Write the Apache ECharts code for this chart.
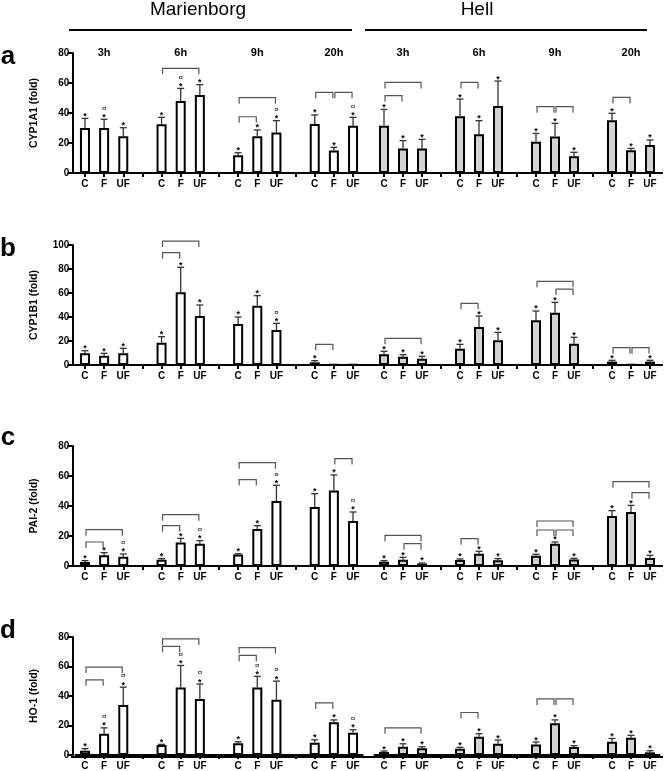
<!DOCTYPE html>
<html><head><meta charset="utf-8">
<script src="https://cdn.jsdelivr.net/npm/echarts@6/dist/echarts.min.js"></script>
<style>html,body{margin:0;padding:0;background:#fff}#c{width:669px;height:771px}</style>
</head><body><div id="c"></div>
<script>
// ---------- data ----------
const sites = ['Marienborg', 'Hell'];
const timepoints = ['3h', '6h', '9h', '20h'];
const treatments = ['C', 'F', 'UF'];
const panelLetters = ['a', 'b', 'c', 'd'];
const yTitles = ['CYP1A1 (fold)', 'CYP1B1 (fold)', 'PAI-2 (fold)', 'HO-1 (fold)'];
const yMaxes = [80, 100, 80, 80];
const yTickStep = 20;

// order: 3h C,F,UF | 6h C,F,UF | 9h C,F,UF | 20h C,F,UF
const cyp1a1Marienborg = [30, 30, 24.5, 32.5, 48, 52, 11.8, 24.5, 27, 32.7, 15, 31.5];
const cyp1a1MarienborgErr = [6.4, 5.8, 5.7, 4.6, 8.4, 6.9, 1.7, 4.2, 7.9, 6, 2.1, 5.6];
const cyp1a1MarienborgMarks = ['*', '*¤', '*', '*', '*¤', '*', '*', '*', '*¤', '*', '*', '*¤'];
const cyp1a1Hell = [31.5, 16.4, 16.4, 37.8, 25.8, 44.7, 20.9, 24.4, 11.1, 35.1, 15.1, 18.7];
const cyp1a1HellErr = [10.9, 5.2, 6, 11.5, 9.1, 16.6, 5.5, 8.7, 2.7, 4.7, 1.3, 3.3];
const cyp1a1HellMarks = ['*', '*', '*', '*', '*', '*', '*', '*', '*', '*', '*', '*'];
// brackets: [timepoint index 0-7 (0-3 Marienborg, 4-7 Hell), from, to, level]
const cyp1a1Brackets = [[1, 0, 2, 69.8], [2, 0, 2, 50.2], [2, 0, 1, 37.5], [3, 0, 1, 53.8], [3, 1, 2, 53.8],
  [4, 0, 2, 60.4], [4, 0, 1, 51.6], [5, 0, 1, 60.4], [6, 0, 1, 44.2], [6, 1, 2, 44.2], [7, 0, 1, 50.4]];

const cyp1b1Marienborg = [9.7, 7.8, 9.7, 18.6, 60.6, 40.8, 34.2, 49.4, 29.2, 2.2, 0.3, 0.3];
const cyp1b1MarienborgErr = [2.2, 1.9, 4.2, 5, 20.8, 9.2, 5.8, 8.4, 5.5, 1.4, 0, 0];
const cyp1b1MarienborgMarks = ['*', '*', '*', '*', '*', '*', '*', '*', '*¤', '*', '', ''];
const cyp1b1Hell = [8.9, 6.9, 5.3, 13.6, 31.7, 20.6, 37.2, 43.6, 17.8, 2.8, 0.5, 2.8];
const cyp1b1HellErr = [2.5, 1.7, 1.9, 3.6, 9.1, 6.6, 7.8, 8.6, 5.3, 1.1, 0, 1.1];
const cyp1b1HellMarks = ['*', '*', '*', '*', '*', '*', '*', '*', '*', '*', '', '*'];
const cyp1b1Brackets = [[1, 0, 2, 103.3], [1, 0, 1, 93.6], [3, 0, 1, 17.2], [4, 0, 2, 22.2], [5, 0, 1, 51.4],
  [6, 0, 2, 69.7], [6, 1, 2, 63.3], [7, 0, 1, 14.4], [7, 1, 2, 14.4]];

const pai2Marienborg = [2.7, 7.1, 6.2, 4.2, 15.6, 14.9, 7.6, 24.7, 43.3, 39.3, 50.4, 30];
const pai2MarienborgErr = [0.9, 1.8, 1.8, 0.7, 2.8, 2, 0.6, 2.2, 10.5, 8.9, 10.3, 6];
const pai2MarienborgMarks = ['*', '*', '*¤', '*', '*', '*¤', '*', '*', '*¤', '*', '*', '*¤'];
const pai2Hell = [2.9, 4.2, 1.6, 4, 8.2, 3.8, 6.9, 14.9, 4.4, 33.3, 36, 5.3];
const pai2HellErr = [0.7, 1.6, 0.4, 0.7, 1.6, 1.1, 0.9, 1.1, 0.7, 3.6, 4.4, 1.8];
const pai2HellMarks = ['*', '*', '*', '*', '*', '*', '*', '*', '*', '*', '*', '*'];
const pai2Brackets = [[0, 0, 2, 24.2], [0, 0, 1, 16], [1, 0, 2, 34.2], [1, 0, 1, 26.9], [2, 0, 2, 68.9], [2, 0, 1, 57.6],
  [3, 1, 2, 71.6], [4, 0, 2, 20.4], [4, 1, 2, 14.9], [5, 0, 1, 18.2], [6, 0, 2, 30], [6, 0, 1, 24], [6, 1, 2, 24],
  [7, 0, 2, 56.2], [7, 1, 2, 48.9]];

const ho1Marienborg = [2.9, 14.4, 33.9, 6.7, 45.8, 38, 7.9, 45.8, 37.5, 8.3, 22.2, 15.1];
const ho1MarienborgErr = [1.4, 4, 12.1, 0.5, 14.9, 10.1, 1.1, 7.5, 12.6, 2, 1.6, 2];
const ho1MarienborgMarks = ['*', '*¤', '*¤', '*', '*¤', '*¤', '*', '*¤', '*¤', '*', '*', '*¤'];
const ho1Hell = [2, 5.6, 4.5, 4.3, 12.4, 7.6, 7.2, 21.6, 5.4, 9, 11.7, 1.8];
const ho1HellErr = [0.7, 2, 1.1, 0.9, 2, 2.5, 1.6, 2.2, 0.9, 2.2, 1.6, 1.1];
const ho1HellMarks = ['*', '*', '*', '*', '*', '*', '*', '*', '*', '*', '*', '*'];
const ho1Brackets = [[0, 0, 2, 59.6], [0, 0, 1, 51], [1, 0, 2, 78.7], [1, 0, 1, 73.7], [2, 0, 2, 72.8], [2, 0, 1, 67.6],
  [3, 0, 1, 35.3], [4, 0, 2, 18.4], [5, 0, 1, 28.8], [6, 0, 1, 38], [6, 1, 2, 38]];

// ---------- assemble ----------
const panelData = [
  { vals: [cyp1a1Marienborg, cyp1a1Hell], errs: [cyp1a1MarienborgErr, cyp1a1HellErr], marks: [cyp1a1MarienborgMarks, cyp1a1HellMarks], br: cyp1a1Brackets },
  { vals: [cyp1b1Marienborg, cyp1b1Hell], errs: [cyp1b1MarienborgErr, cyp1b1HellErr], marks: [cyp1b1MarienborgMarks, cyp1b1HellMarks], br: cyp1b1Brackets },
  { vals: [pai2Marienborg, pai2Hell], errs: [pai2MarienborgErr, pai2HellErr], marks: [pai2MarienborgMarks, pai2HellMarks], br: pai2Brackets },
  { vals: [ho1Marienborg, ho1Hell], errs: [ho1MarienborgErr, ho1HellErr], marks: [ho1MarienborgMarks, ho1HellMarks], br: ho1Brackets }
];

const FONT = 'Liberation Sans, Arial, Helvetica, sans-serif';
const slotOf = (g, t) => 4 * g + t;
const xCats = [];
const topCats = [];
timepoints.forEach((tp, g) => {
  treatments.forEach((t, ti) => { xCats.push(t); topCats.push(ti === 1 ? tp : ''); });
  if (g < timepoints.length - 1) { xCats.push(''); topCats.push(''); }
});

const panelTops = [53, 245, 446, 637];
const panelH = 120;
const siteBox = [{ left: 75.4, width: 287.2 }, { left: 374.5, width: 285 }];
const fills = ['#ffffff', '#d3d3d3'];

const grid = [], xAxis = [], yAxis = [], series = [], graphic = [];

panelData.forEach((pd, p) => {
  sites.forEach((site, s) => {
    const gi = grid.length;
    grid.push({ left: siteBox[s].left, width: siteBox[s].width, top: panelTops[p], height: panelH });
    const xi = xAxis.length;
    xAxis.push({
      type: 'category', gridIndex: gi, data: xCats, boundaryGap: true,
      axisLine: { show: true, lineStyle: { color: '#000', width: 2 } },
      axisTick: { show: true, alignWithLabel: true, interval: 0, length: 4, lineStyle: { color: '#000', width: 2 } },
      axisLabel: { interval: 0, color: '#000', fontWeight: 'bold', fontSize: 10, fontFamily: FONT, margin: 6 },
      splitLine: { show: false }
    });
    if (p === 0) {
      xAxis.push({
        type: 'category', gridIndex: gi, data: topCats, position: 'top', boundaryGap: true,
        axisLine: { show: false }, axisTick: { show: false }, splitLine: { show: false },
        axisLabel: { interval: 0, color: '#000', fontWeight: 'bold', fontSize: 11, fontFamily: FONT, margin: -5 }
      });
    }
    yAxis.push({
      type: 'value', gridIndex: gi, min: 0, max: yMaxes[p], interval: yTickStep, show: s === 0,
      offset: 3,
      axisLine: { show: true, lineStyle: { color: '#000', width: 2 } },
      axisTick: { show: true, length: 5, lineStyle: { color: '#000', width: 2 } },
      axisLabel: { color: '#000', fontWeight: 'bold', fontSize: 10, fontFamily: FONT, margin: 3 },
      splitLine: { show: false },
      name: yTitles[p], nameLocation: 'middle', nameGap: 33, nameRotate: 90,
      nameTextStyle: { color: '#000', fontWeight: 'bold', fontSize: 10.5, fontFamily: FONT }
    });

    const vals = pd.vals[s], errs = pd.errs[s], marks = pd.marks[s];
    const barData = new Array(xCats.length).fill('-');
    const errData = [];
    const errMarks = [];
    vals.forEach((v, i) => {
      const g = Math.floor(i / 3), t = i % 3;
      barData[slotOf(g, t)] = v;
      errData.push([slotOf(g, t), v, v + errs[i]]);
      errMarks.push(marks[i]);
    });
    series.push({
      type: 'bar', xAxisIndex: xi, yAxisIndex: gi, data: barData, barWidth: 10,
      itemStyle: { color: fills[s], borderColor: '#000', borderWidth: 2 }, z: 2
    });
    series.push({
      type: 'custom', xAxisIndex: xi, yAxisIndex: gi, data: errData, encode: { x: 0, y: [1, 2] }, clip: false, z: 3,
      renderItem: function (params, api) {
        const d = errData[params.dataIndex];
        const mk = errMarks[params.dataIndex];
        const b = api.coord([d[0], d[1]]);
        const tp = api.coord([d[0], d[2]]);
        const ch = [];
        if (d[2] > d[1]) {
          ch.push({ type: 'line', shape: { x1: b[0], y1: b[1], x2: tp[0], y2: tp[1] }, style: { stroke: '#333', lineWidth: 1.3 } });
          ch.push({ type: 'line', shape: { x1: tp[0] - 3.5, y1: tp[1], x2: tp[0] + 3.5, y2: tp[1] }, style: { stroke: '#333', lineWidth: 1.3 } });
        }
        if (mk.indexOf('*') >= 0) {
          ch.push({ type: 'text', x: tp[0], y: tp[1] - 2, style: { text: '*', fill: '#000', fontSize: 9, fontWeight: 'bold', fontFamily: FONT, align: 'center', verticalAlign: 'middle' } });
        }
        if (mk.indexOf('¤') >= 0) {
          ch.push({ type: 'text', x: tp[0], y: tp[1] - 11, style: { text: '¤', fill: '#000', fontSize: 8, fontFamily: FONT, align: 'center', verticalAlign: 'middle' } });
        }
        return { type: 'group', children: ch };
      }
    });
    const brData = pd.br.filter(b => (b[0] < 4 ? 0 : 1) === s).map(b => [slotOf(b[0] % 4, b[1]), slotOf(b[0] % 4, b[2]), b[3]]);
    series.push({
      type: 'custom', xAxisIndex: xi, yAxisIndex: gi, data: brData, encode: { x: [0, 1], y: 2 }, clip: false, z: 3,
      renderItem: function (params, api) {
        const d = brData[params.dataIndex];
        const p1 = api.coord([d[0], d[2]]);
        const p2 = api.coord([d[1], d[2]]);
        return {
          type: 'polyline',
          shape: { points: [[p1[0] + 1, p1[1] + 6], [p1[0] + 1, p1[1]], [p2[0] - 1, p2[1]], [p2[0] - 1, p2[1] + 6]] },
          style: { stroke: '#555', lineWidth: 1.2, fill: null }
        };
      }
    });
  });
  // continuous baseline across both sites
  const yb = panelTops[p] + panelH;
  graphic.push({ type: 'line', shape: { x1: 71, y1: yb, x2: 663, y2: yb }, style: { stroke: '#000', lineWidth: 2 }, z: 10 });
  graphic.push({ type: 'text', x: 8, y: [57, 249, 438, 631][p], style: { text: panelLetters[p], fill: '#000', fontSize: 26, fontWeight: 'bold', fontFamily: FONT, align: 'center', verticalAlign: 'middle' } });
});

graphic.push({ type: 'text', x: 198, y: 10, style: { text: sites[0], fill: '#000', fontSize: 19, fontFamily: FONT, align: 'center', verticalAlign: 'middle' } });
graphic.push({ type: 'text', x: 477, y: 10, style: { text: sites[1], fill: '#000', fontSize: 19, fontFamily: FONT, align: 'center', verticalAlign: 'middle' } });
graphic.push({ type: 'line', shape: { x1: 69, y1: 30, x2: 352, y2: 30 }, style: { stroke: '#000', lineWidth: 2 } });
graphic.push({ type: 'line', shape: { x1: 365, y1: 30, x2: 647, y2: 30 }, style: { stroke: '#000', lineWidth: 2 } });

const chart = echarts.init(document.getElementById('c'), null, { renderer: 'canvas' });
chart.setOption({ animation: false, backgroundColor: '#fff', grid, xAxis, yAxis, series, graphic });
</script></body></html>
